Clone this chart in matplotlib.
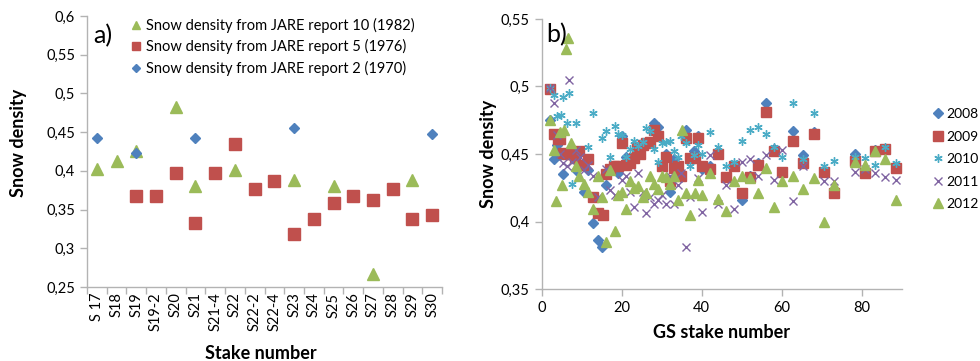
import numpy as np
import matplotlib
matplotlib.use("Agg")
import matplotlib.pyplot as plt
from matplotlib.ticker import FuncFormatter, FixedLocator

plt.rcParams['font.family'] = ['Lato', 'DejaVu Sans']

nan = np.nan

# panel a data
stakes_a = ["S 17", "S18", "S19", "S19-2", "S20", "S21", "S21-4", "S22", "S22-2",
            "S22-4", "S23", "S24", "S25", "S26", "S27", "S28", "S29", "S30"]
jare10 = [0.403, 0.413, 0.426, nan, 0.482, 0.380, nan, 0.401, nan,
          nan, 0.388, nan, 0.380, nan, 0.267, nan, 0.388, nan]
jare5 = [nan, nan, 0.367, 0.367, 0.397, 0.333, 0.397, 0.435, 0.377,
         0.387, 0.319, 0.338, 0.358, 0.367, 0.362, 0.377, 0.338, 0.343]
jare2 = [0.443, nan, 0.423, nan, nan, 0.442, nan, nan, nan,
         nan, 0.455, nan, nan, nan, nan, nan, nan, 0.448]

# panel b data
gs08_x = [2.2, 3.1, 3.9, 4.6, 5.4, 8.7, 10.6, 11.7, 12.9, 14.0, 15.2, 16.0, 19.1, 20.2, 21.2,
          28.0, 29.1, 31.2, 32.0, 33.1, 34.9, 36.2, 38.0, 39.1, 40.1, 42.0, 44.1, 50.2, 52.1,
          54.2, 56.1, 58.2, 60.1, 62.8, 65.3, 68.0, 78.3, 83.3, 85.9]
gs08_y = [0.475, 0.446, 0.457, 0.449, 0.435, 0.438, 0.422, 0.438, 0.399, 0.386, 0.381, 0.427,
          0.436, 0.463, 0.448, 0.473, 0.470, 0.450, 0.422, 0.446, 0.433, 0.468, 0.452, 0.463,
          0.439, 0.441, 0.452, 0.416, 0.434, 0.443, 0.488, 0.454, 0.436, 0.467, 0.449, 0.466,
          0.450, 0.453, 0.454]

gs09_x = [2.2, 3.1, 4.0, 4.6, 5.4, 6.4, 7.3, 8.3, 9.4, 10.4, 11.7, 12.9, 14.1, 15.4, 16.0,
          17.0, 18.0, 19.1, 20.2, 21.2, 22.2, 23.0, 23.9, 24.7, 25.4, 26.2, 27.0, 28.0, 29.1,
          30.1, 31.2, 32.0, 33.1, 34.1, 34.9, 36.2, 37.2, 38.3, 39.1, 40.1, 42.0, 44.1, 46.2,
          48.1, 50.2, 52.1, 54.2, 56.1, 58.2, 60.1, 62.8, 65.3, 68.0, 70.5, 73.0, 78.3, 80.8,
          83.3, 85.9, 88.6]
gs09_y = [0.498, 0.465, 0.461, 0.461, 0.451, 0.450, 0.450, 0.447, 0.452, 0.442, 0.446, 0.418,
          0.406, 0.405, 0.435, 0.439, 0.441, 0.441, 0.458, 0.442, 0.443, 0.447, 0.455, 0.450,
          0.457, 0.458, 0.459, 0.468, 0.463, 0.441, 0.448, 0.430, 0.440, 0.441, 0.434, 0.462,
          0.447, 0.447, 0.462, 0.441, 0.439, 0.450, 0.433, 0.441, 0.421, 0.433, 0.442, 0.481,
          0.452, 0.437, 0.460, 0.443, 0.465, 0.437, 0.421, 0.445, 0.436, 0.452, 0.454, 0.440]

gs10_x = [2.2, 3.1, 3.9, 4.8, 5.4, 6.4, 6.9, 7.5, 8.7, 11.7, 12.9, 15.2, 16.0, 17.2, 18.3,
          19.1, 20.2, 21.2, 22.2, 23.0, 24.1, 25.4, 26.2, 27.2, 28.0, 29.1, 30.1, 31.2, 32.0,
          33.1, 34.1, 34.9, 36.2, 37.2, 38.0, 39.1, 40.1, 42.0, 44.1, 46.2, 48.1, 50.2, 52.1,
          54.2, 56.1, 58.2, 60.1, 62.8, 65.3, 68.0, 70.5, 73.0, 78.3, 80.8, 83.3, 85.9, 88.6]
gs10_y = [0.499, 0.494, 0.478, 0.479, 0.492, 0.473, 0.495, 0.428, 0.473, 0.455, 0.480, 0.462,
          0.467, 0.448, 0.471, 0.465, 0.464, 0.448, 0.454, 0.460, 0.456, 0.459, 0.469, 0.467,
          0.454, 0.444, 0.458, 0.459, 0.460, 0.452, 0.448, 0.463, 0.458, 0.441, 0.449, 0.457,
          0.450, 0.466, 0.455, 0.441, 0.444, 0.460, 0.468, 0.470, 0.465, 0.455, 0.448, 0.488,
          0.446, 0.480, 0.441, 0.445, 0.448, 0.447, 0.442, 0.455, 0.443]

gs11_x = [2.2, 3.1, 3.9, 4.6, 5.4, 6.4, 6.9, 7.5, 8.7, 9.6, 10.6, 11.7, 12.9, 14.0, 16.0,
          17.2, 18.3, 20.2, 21.2, 22.2, 23.0, 24.1, 25.4, 26.2, 27.2, 28.0, 29.1, 30.1, 31.2,
          32.0, 33.1, 34.1, 34.9, 36.2, 37.2, 39.1, 40.1, 42.0, 44.1, 46.2, 48.1, 50.2, 52.1,
          54.2, 56.1, 58.2, 60.1, 62.8, 65.3, 70.5, 73.0, 78.3, 80.8, 83.3, 85.9, 88.6]
gs11_y = [0.499, 0.488, 0.464, 0.450, 0.443, 0.441, 0.505, 0.444, 0.453, 0.448, 0.438, 0.442,
          0.434, 0.418, 0.439, 0.423, 0.420, 0.431, 0.434, 0.422, 0.411, 0.436, 0.422, 0.406,
          0.418, 0.413, 0.416, 0.420, 0.413, 0.434, 0.413, 0.427, 0.436, 0.381, 0.418, 0.432,
          0.407, 0.449, 0.413, 0.427, 0.409, 0.444, 0.446, 0.434, 0.449, 0.431, 0.453, 0.415,
          0.441, 0.430, 0.430, 0.437, 0.439, 0.436, 0.433, 0.431]

gs12_x = [2.2, 3.1, 3.7, 4.6, 5.2, 5.6, 6.2, 6.7, 7.3, 8.5, 9.4, 10.6, 11.7, 12.9, 14.0,
          15.2, 16.0, 17.2, 18.3, 19.1, 20.2, 21.2, 22.2, 23.0, 24.1, 25.4, 26.2, 27.2, 28.0,
          29.1, 30.1, 31.2, 32.0, 33.1, 34.1, 35.1, 36.2, 37.2, 38.3, 39.1, 40.1, 42.0, 44.1,
          46.2, 48.1, 50.2, 52.1, 54.2, 56.1, 58.2, 60.1, 62.8, 65.3, 68.0, 70.5, 73.0, 78.3,
          80.8, 83.3, 85.9, 88.6]
gs12_y = [0.475, 0.453, 0.415, 0.466, 0.427, 0.468, 0.528, 0.536, 0.458, 0.441, 0.434, 0.428,
          0.422, 0.409, 0.434, 0.418, 0.385, 0.438, 0.393, 0.420, 0.422, 0.409, 0.430, 0.425,
          0.426, 0.418, 0.421, 0.434, 0.428, 0.424, 0.434, 0.433, 0.428, 0.434, 0.416, 0.468,
          0.421, 0.405, 0.421, 0.431, 0.420, 0.436, 0.417, 0.408, 0.430, 0.434, 0.432, 0.421,
          0.440, 0.411, 0.430, 0.434, 0.424, 0.432, 0.400, 0.427, 0.444, 0.442, 0.452, 0.446,
          0.416]

BLUE = "#4F81BD"
RED = "#C0504D"
GREEN = "#9BBB59"
CYAN = "#4BACC6"
PURPLE = "#8064A2"
AXC = "#B3B3B3"

comma = FuncFormatter(lambda v, p: ("%g" % round(v, 3)).replace(".", ","))


def style_axes(ax):
    for s in ["top", "right"]:
        ax.spines[s].set_visible(False)
    for s in ["left", "bottom"]:
        ax.spines[s].set_color(AXC)
        ax.spines[s].set_linewidth(1.0)
    ax.tick_params(colors=AXC, labelcolor="black", labelsize=10.5, length=5, width=1)


fig = plt.figure(figsize=(9.8, 3.61), dpi=100)

# ---- a) ----
ax1 = fig.add_axes([0.0888, 0.205, 0.3622, 0.7507])
pos = np.arange(len(stakes_a))
ax1.plot(pos, jare10, linestyle="none", marker="^", color=GREEN, markersize=8,
         label="Snow density from JARE report 10 (1982)")
ax1.plot(pos, jare5, linestyle="none", marker="s", color=RED, markersize=8,
         label="Snow density from JARE report 5 (1976)")
ax1.plot(pos, jare2, linestyle="none", marker="D", color=BLUE, markersize=5.5,
         label="Snow density from JARE report 2 (1970)")
ax1.set_xlim(-0.5, len(stakes_a) - 0.5)
ax1.set_ylim(0.25, 0.6)
ax1.set_yticks(np.arange(0.25, 0.6001, 0.05))
ax1.yaxis.set_major_formatter(comma)
ax1.xaxis.set_major_locator(FixedLocator(np.arange(-0.5, len(stakes_a), 1.0)))
ax1.xaxis.set_major_formatter(FuncFormatter(lambda v, p: ""))
ax1.set_xticks(pos, minor=True)
ax1.set_xticklabels(stakes_a, minor=True, rotation=90, fontsize=10.5)
style_axes(ax1)
ax1.tick_params(axis="x", which="minor", length=0, pad=4)
ax1.set_ylabel("Snow density", fontsize=13, fontweight="bold")
ax1.yaxis.set_label_coords(-0.17, 0.53)
ax1.set_xlabel("Stake number", fontsize=13, fontweight="bold")
ax1.xaxis.set_label_coords(0.49, -0.215)
ax1.text(0.018, 0.97, "a)", transform=ax1.transAxes, fontsize=18, va="top", ha="left")
ax1.legend(loc="upper left", bbox_to_anchor=(0.11, 1.015), frameon=False, fontsize=10.5,
           handlelength=0.6, handletextpad=0.4, labelspacing=0.45, borderaxespad=0,
           markerscale=0.75)

# ---- b) ----
ax2 = fig.add_axes([0.5527, 0.1994, 0.3673, 0.748])
ax2.plot(gs08_x, gs08_y, linestyle="none", marker="D", color=BLUE, markersize=5, label="2008")
ax2.plot(gs09_x, gs09_y, linestyle="none", marker="s", color=RED, markersize=6.5, label="2009")
ax2.plot(gs10_x, gs10_y, linestyle="none", marker=(6, 2, 0), color=CYAN, markersize=6,
         markeredgewidth=1.0, label="2010")
ax2.plot(gs11_x, gs11_y, linestyle="none", marker="x", color=PURPLE, markersize=5.5,
         markeredgewidth=1.0, label="2011")
ax2.plot(gs12_x, gs12_y, linestyle="none", marker="^", color=GREEN, markersize=6.5, label="2012")
ax2.set_xlim(0, 90)
ax2.set_ylim(0.35, 0.55)
ax2.set_xticks([0, 20, 40, 60, 80])
ax2.set_yticks(np.arange(0.35, 0.5501, 0.05))
ax2.yaxis.set_major_formatter(comma)
style_axes(ax2)
ax2.set_ylabel("Snow density", fontsize=13, fontweight="bold")
ax2.yaxis.set_label_coords(-0.125, 0.5)
ax2.set_xlabel("GS stake number", fontsize=13, fontweight="bold")
ax2.xaxis.set_label_coords(0.5, -0.13)
ax2.text(0.012, 0.985, "b)", transform=ax2.transAxes, fontsize=18, va="top", ha="left")
ax2.legend(loc="upper left", bbox_to_anchor=(1.075, 0.69), frameon=False, fontsize=10,
           handlelength=0.6, handletextpad=0.3, labelspacing=0.75, borderaxespad=0)

fig.savefig("out.png", dpi=100)
